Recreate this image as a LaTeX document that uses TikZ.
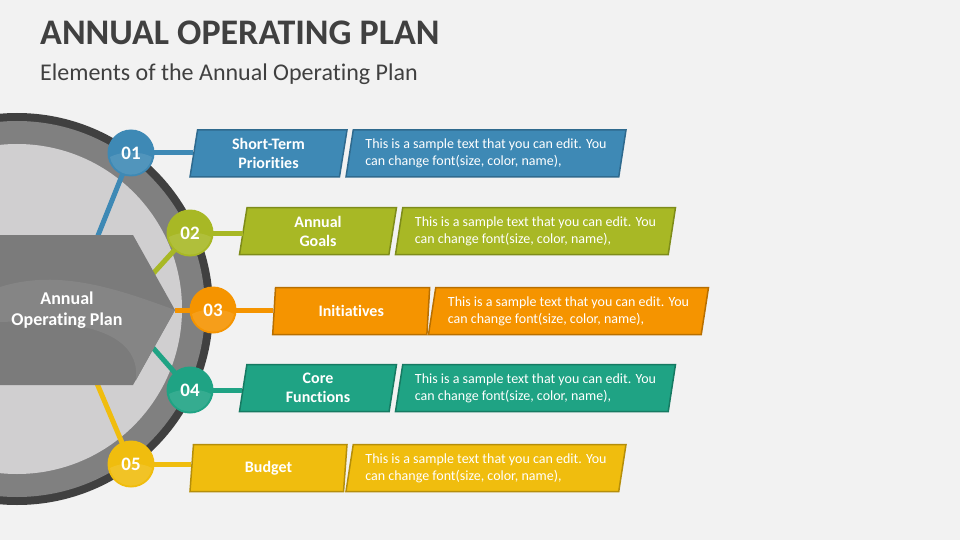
\documentclass[tikz,border=0pt]{standalone}
\usepackage{fontspec}
\setmainfont{Carlito}[Ligatures=NoCommon]
\usetikzlibrary{shapes.geometric}
\definecolor{bg}{HTML}{F2F2F2}
\definecolor{ttl}{HTML}{404040}
\definecolor{cA}{HTML}{3E89B5}\definecolor{cAd}{HTML}{2F6A8E}
\definecolor{cB}{HTML}{A8B825}\definecolor{cBd}{HTML}{7E8C1A}
\definecolor{cC}{HTML}{F59400}\definecolor{cCd}{HTML}{B86F00}
\definecolor{cD}{HTML}{1FA384}\definecolor{cDd}{HTML}{167A62}
\definecolor{cE}{HTML}{F0BD0E}\definecolor{cEd}{HTML}{B58E0A}
\definecolor{ringdark}{HTML}{404040}
\definecolor{ringmid}{HTML}{808080}
\definecolor{disc}{HTML}{D0CFD0}
\definecolor{pent}{HTML}{7B7B7B}
\definecolor{pentlight}{HTML}{858585}
\begin{document}
\begin{tikzpicture}[x=1pt,y=-1pt,
  para/.style={trapezium, trapezium left angle=76, trapezium right angle=104,
    trapezium stretches body, minimum height=47pt, inner sep=0pt,
    line width=1.5pt, text=white},
  lbl/.style={para, minimum width=157pt, font=\bfseries\fontsize{16}{19}\selectfont, align=center},
  desc/.style={para, minimum width=280pt, font=\fontsize{14}{17}\selectfont, align=left},
  num/.style={circle, minimum size=47pt, inner sep=0pt, text=white,
    font=\bfseries\fontsize{19}{22}\selectfont},
  gloss/.style={white, opacity=0.10},
  spoke/.style={line width=5pt},
  link/.style={line width=5pt},
]
\useasboundingbox (0,0) rectangle (960,540);
\fill[bg] (0,0) rectangle (960,540);
\begin{scope}
\clip (0,0) rectangle (960,540);

% titles
\node[anchor=base west, inner sep=0pt, text=ttl, font=\bfseries\fontsize{36}{42}\selectfont] (title) at (40,45) {ANNUAL OPERATING PLAN};
\node[anchor=base west, inner sep=0pt, text=ttl, font=\fontsize{24}{28}\selectfont] (subtitle) at (40,81) {Elements of the Annual Operating Plan};

% big circle
\coordinate (O) at (17,309);
\fill[ringdark] (O) circle (196pt);
\fill[ringmid] (O) circle (188pt);
\fill[disc] (O) circle (165pt);

% circle centres
\coordinate (p1) at (131,153);
\coordinate (p2) at (190,233);
\coordinate (p3) at (213,310);
\coordinate (p4) at (190,390);
\coordinate (p5) at (131,464);
% hidden spoke ends
\coordinate (h1) at (85,268);
\coordinate (h2) at (140,288);
\coordinate (h4) at (140,333);
\coordinate (h5) at (85,355);
\draw[spoke, cA] (p1) -- (h1);
\draw[spoke, cB] (p2) -- (h2);
\draw[spoke, cD] (p4) -- (h4);
\draw[spoke, cE] (p5) -- (h5);

% central pentagon
\fill[pent] (0,235) -- (133,235) -- (175,310) -- (133,385) -- (0,385) -- cycle;
\fill[pentlight] (0,287) .. controls (60,268) and (120,290) .. (175,310)
  -- (136,380) .. controls (140,340) and (100,318) .. (0,322) -- cycle;
\coordinate (tip) at (175,310);
\node[text=white, align=center, font=\bfseries\fontsize{18}{21}\selectfont] (center) at (67,310) {Annual\\Operating Plan};
\draw[spoke, cC] (tip) -- (p3);

% boxes
\node[lbl, fill=cA, draw=cAd] (b1) at (268.5,153.5) {Short-Term\\Priorities};
\node[desc, fill=cA, draw=cAd] (d1) at (486,153.5) {This is a sample text that you can edit. You\\can change font(size, color, name),};
\node[lbl, fill=cB, draw=cBd] (b2) at (318,231) {Annual\\Goals};
\node[desc, fill=cB, draw=cBd] (d2) at (535.5,231) {This is a sample text that you can edit. You\\can change font(size, color, name),};
\node[lbl, fill=cC, draw=cCd] (b3) at (351.2,311) {Initiatives};
\node[desc, fill=cC, draw=cCd] (d3) at (568.5,311) {This is a sample text that you can edit. You\\can change font(size, color, name),};
\node[lbl, fill=cD, draw=cDd] (b4) at (318,388) {Core\\Functions};
\node[desc, fill=cD, draw=cDd] (d4) at (535.5,388) {This is a sample text that you can edit. You\\can change font(size, color, name),};
\node[lbl, fill=cE, draw=cEd] (b5) at (268.5,468) {Budget};
\node[desc, fill=cE, draw=cEd] (d5) at (486,468) {This is a sample text that you can edit. You\\can change font(size, color, name),};

% connectors to boxes
\draw[link, cA] (p1) -- (p1 -| b1.west);
\draw[link, cB] (p2) -- (p2 -| b2.west);
\draw[link, cC] (p3) -- (p3 -| b3.west);
\draw[link, cD] (p4) -- (p4 -| b4.west);
\draw[link, cE] (p5) -- (p5 -| b5.west);

% numbered circles
\foreach \i/\c in {1/cA,2/cB,3/cC,4/cD,5/cE}{
  \node[num, fill=\c] (n\i) at (p\i) {};
  \fill[gloss] ([shift={(-21,4)}]p\i) arc[start angle=190, end angle=350, radius=21.3pt] .. controls ([shift={(10,-2)}]p\i) and ([shift={(-10,-2)}]p\i) .. cycle;
  \node[text=white, font=\bfseries\fontsize{19}{22}\selectfont] at (p\i) {0\i};
}
\end{scope}
\end{tikzpicture}
\end{document}
